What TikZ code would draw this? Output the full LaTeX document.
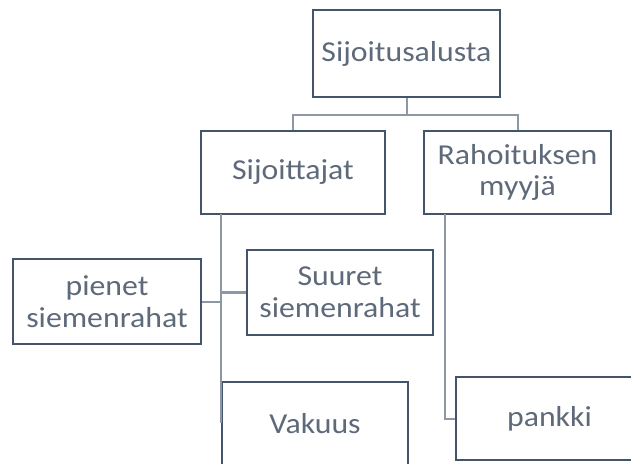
\documentclass[tikz,border=0pt]{standalone}
\usepackage{fontspec}
\setmainfont[FakeStretch=1.1]{Carlito}
\definecolor{boxline}{HTML}{44546A}
\definecolor{txt}{HTML}{5E6A7A}
\definecolor{conn}{HTML}{8E98A4}
\begin{document}
\begin{tikzpicture}[x=1bp,y=-1bp,
  box/.style={draw=boxline,line width=2.6bp,fill=white,rectangle,inner sep=0pt,
    text=txt,align=center,font=\fontsize{29}{32}\selectfont},
  link/.style={draw=conn,line width=2bp}]
\clip (0,0) rectangle (631,464);
\fill[white] (0,0) rectangle (631,464);
\node[box,minimum width=187bp,minimum height=87bp] (top) at (406.5,53.5) {Sijoitusalusta};
\node[box,minimum width=184bp,minimum height=83bp] (sij) at (293,172.5) {Sijoittajat};
\node[box,minimum width=187bp,minimum height=83bp] (rah) at (517.5,172.5) {Rahoituksen\\myyjä};
\node[box,minimum width=188bp,minimum height=85bp] (pien) at (107,301.5) {pienet\\siemenrahat};
\node[box,minimum width=186bp,minimum height=85bp] (suur) at (340,292.5) {Suuret\\siemenrahat};
\node[box,minimum width=186bp,minimum height=84bp] (vak) at (315,424) {Vakuus};
\node[box,minimum width=187bp,minimum height=83bp] (pank) at (549.5,418.5) {pankki};
\coordinate (bus) at (406.5,115);
\coordinate (sijdown) at (221,214);
\coordinate (sijend) at (221,423);
\coordinate (rahdown) at (445,214);
\draw[link] (top.south) -- (bus) -| (sij.north);
\draw[link] (bus) -| (rah.north);
\draw[link] (sijdown) -- (sijend);
\draw[link] (pien.east) -- (pien.east -| sijdown);
\draw[link] (suur.west) -- (suur.west -| sijdown);
\draw[link] (rahdown) |- (pank.west);
\end{tikzpicture}
\end{document}
